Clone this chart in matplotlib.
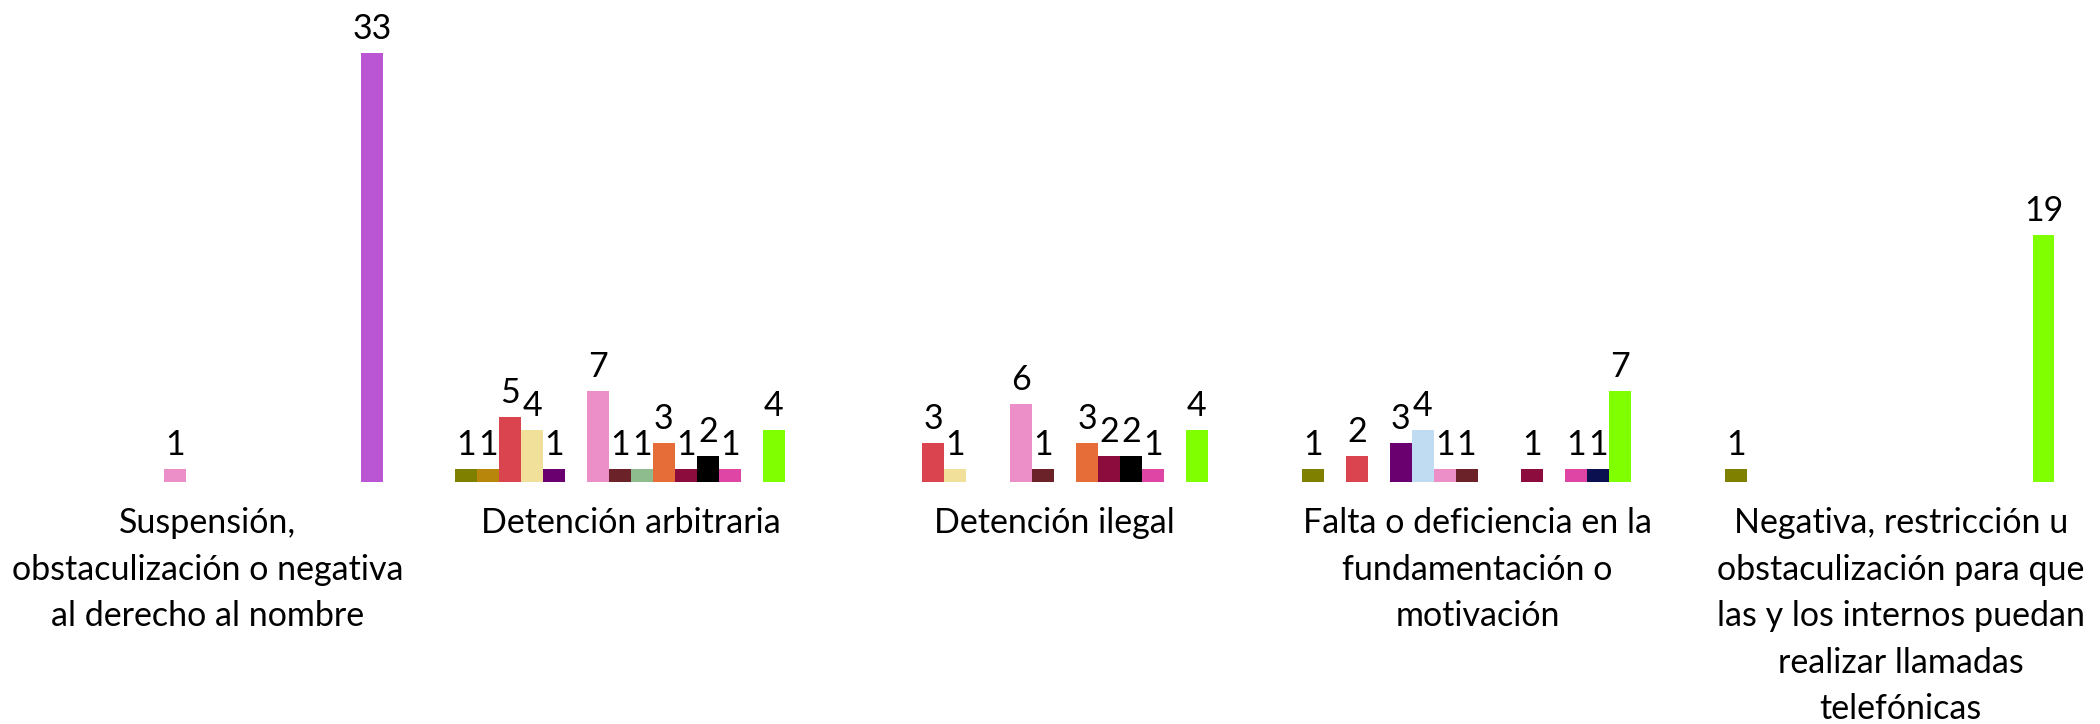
import numpy as np
from matplotlib import pyplot as plt

categories = ["Suspensión,\nobstaculización o negativa\nal derecho al nombre",
              "Detención arbitraria",
              "Detención ilegal",
              "Falta o deficiencia en la\nfundamentación o\nmotivación",
              "Negativa, restricción u\nobstaculización para que\nlas y los internos puedan\nrealizar llamadas\ntelefónicas"]

# one list per series (value in each category), in drawing order
s_olive     = [0, 1, 0, 1, 1]
s_goldenrod = [0, 1, 0, 0, 0]
s_red       = [0, 5, 3, 2, 0]
s_khaki     = [0, 4, 1, 0, 0]
s_purple    = [0, 1, 0, 3, 0]
s_lightblue = [0, 0, 0, 4, 0]
s_pink      = [1, 7, 6, 1, 0]
s_brown     = [0, 1, 1, 1, 0]
s_sage      = [0, 1, 0, 0, 0]
s_orange    = [0, 3, 3, 0, 0]
s_maroon    = [0, 1, 2, 1, 0]
s_black     = [0, 2, 2, 0, 0]
s_magenta   = [0, 1, 1, 1, 0]
s_navy      = [0, 0, 0, 1, 0]
s_green     = [0, 4, 4, 7, 19]
s_violet    = [33, 0, 0, 0, 0]

series = [s_olive, s_goldenrod, s_red, s_khaki, s_purple, s_lightblue, s_pink, s_brown,
          s_sage, s_orange, s_maroon, s_black, s_magenta, s_navy, s_green, s_violet]
colors = ["#808000", "#B8860B", "#D9444F", "#F0E09A", "#6A0070", "#BFDCF3", "#EC8FC8", "#6B2228",
          "#8FBC8F", "#E66C38", "#8C0C3D", "#000000", "#DE45A5", "#0B1150", "#7FFF00", "#BA55D3"]

plt.rcParams["font.family"] = ["Lato", "DejaVu Sans"]

fig = plt.figure(figsize=(21, 7.24), dpi=100)
ax = fig.add_axes([0, 0.3343, 1, 0.6657])

x = np.arange(len(categories))
w = 0.05186
n = len(series)
for j in range(n):
    vals = np.array(series[j])
    pos = x + (j - (n - 1) / 2) * w
    ax.bar(pos, vals, width=w, color=colors[j], edgecolor="none")
    for xi, v in zip(pos, vals):
        if v > 0:
            ax.annotate(str(v), (xi, v), xytext=(0, 10), textcoords="offset points",
                        ha="center", va="baseline", fontsize=24.5, color="black")

ax.set_xlim(-0.4905, 4.4706)
ax.set_ylim(0, 37.08)
ax.set_xticks(x)
ax.set_xticklabels(categories, fontsize=24.5, linespacing=1.56)
ax.tick_params(axis="x", length=0, pad=18)
ax.set_yticks([])
for sp in ax.spines.values():
    sp.set_visible(False)

plt.savefig("out.png", dpi=100)
